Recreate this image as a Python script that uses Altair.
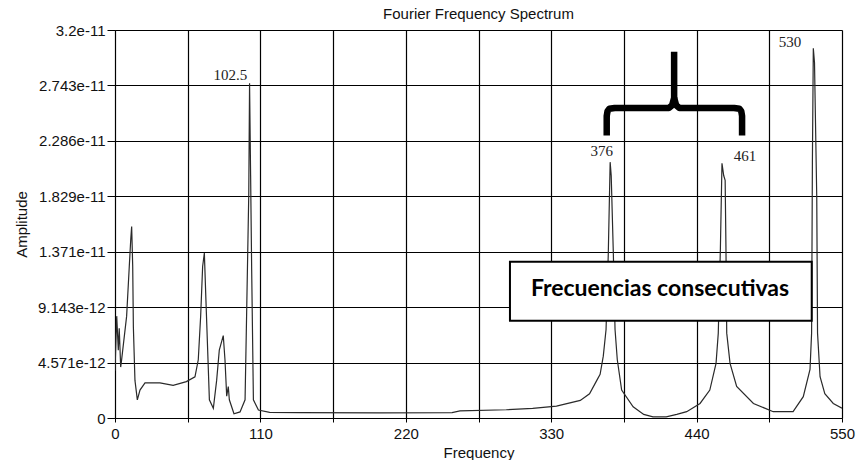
import altair as alt
import pandas as pd

# Spectrum samples (frequency, amplitude in units of 1e-12)
freq = [0, 1.3, 2.5, 3.2, 4.3, 5.0, 8.8, 10.8, 11.9, 12.6, 13.4, 13.9, 15.1, 16.9, 18.9, 22.7,
        34, 44, 54, 60.5, 63, 64.8, 66.3, 67.6, 68.8, 70.1, 71.4, 74.4, 76.9, 78.9, 81.9, 83.2,
        84.5, 85.7, 86.5, 90, 94.6, 98.4, 99.6, 101.2, 101.8, 102.6, 103.4, 104.7, 108.5, 117,
        140, 200, 255, 261, 296, 316, 334, 352, 359, 364.5, 367, 369.4, 371.5, 373.2, 374.6,
        375.4, 377, 378.3, 380, 383.3, 392, 400, 407, 417, 425, 432.5, 442.6, 450, 454.7, 456.4,
        458, 459.2, 460.5, 461.6, 462.2, 462.8, 465.3, 470.3, 483, 498, 513, 520.7, 525.8, 527,
        527.6, 528.3, 529.2, 530.9, 531.5, 533.4, 537, 543.4, 550]
amp_e12 = [3.9, 8.4, 5.6, 7.4, 4.2, 4.8, 8.4, 12.5, 14.7, 15.8, 12.5, 7.5, 3.1, 1.5, 2.3, 2.9,
           2.9, 2.7, 3.0, 3.4, 4.8, 8.4, 12.5, 13.6, 9.7, 5.6, 1.5, 0.8, 3.1, 5.6, 6.8, 4.8,
           1.8, 2.6, 1.5, 0.35, 0.5, 1.5, 8.7, 18.5, 27.6, 20.0, 12.2, 1.5, 0.66, 0.47,
           0.44, 0.42, 0.45, 0.58, 0.68, 0.8, 0.98, 1.45, 2.0, 3.1, 3.6, 5.1, 7.3, 13.6, 21.1,
           20.0, 13.6, 7.3, 4.8, 2.3, 0.93, 0.3, 0.1, 0.1, 0.3, 0.52, 1.2, 2.3, 4.5, 7.0,
           14.0, 21.0, 20.0, 19.6, 14.1, 7.0, 4.5, 2.6, 1.2, 0.52, 0.52, 1.76, 4.0, 7.0,
           21.0, 30.5, 29.3, 18.2, 7.0, 3.4, 2.0, 1.2, 0.8]

# Axis ticks
x_ticks = [0, 55, 110, 165, 220, 275, 330, 385, 440, 495, 550]
y_ticks = [i * 32 / 7 for i in range(8)]
y_tick_labels = ["0", "4.571e-12", "9.143e-12", "1.371e-11", "1.829e-11",
                 "2.286e-11", "2.743e-11", "3.2e-11"]

# Peak labels
peak_text = ["102.5", "376", "461", "530"]
peak_x = [87.2, 368.2, 476.7, 510.7]
peak_y = [28.3, 22.0, 21.6, 31.0]

# Bracket (two halves meeting at the centre stem)
br_x = [372, 372, 372.6, 374, 378, 419, 421.5, 423, 423,
        474.4, 474.4, 473.8, 472.4, 468.4, 427, 424.5, 423]
br_y = [23.3, 24.9, 25.3, 25.5, 25.57, 25.57, 25.8, 26.4, 30.2,
        23.3, 24.9, 25.3, 25.5, 25.57, 25.57, 25.8, 26.4]
br_part = ["a"] * 9 + ["b"] * 8

# Annotation box
box_text = ["Frecuencias consecutivas"]
box_x1, box_x2 = [298.8], [527.1]
box_y1, box_y2 = [8.02], [12.89]
box_tx, box_ty = [412.3], [10.6]

spec = pd.DataFrame({"f": freq, "a": amp_e12})
peaks = pd.DataFrame({"t": peak_text, "x": peak_x, "y": peak_y})
bracket = pd.DataFrame({"x": br_x, "y": br_y, "part": br_part,
                        "o": list(range(len(br_x)))})
box = pd.DataFrame({"x1": box_x1, "x2": box_x2, "y1": box_y1, "y2": box_y2,
                    "tx": box_tx, "ty": box_ty, "t": box_text})

label_arr = "[" + ",".join("'%s'" % s for s in y_tick_labels) + "]"

xscale = alt.Scale(domain=[0, 550], nice=False, zero=False)
yscale = alt.Scale(domain=[0, 32], nice=False)

xaxis = alt.Axis(values=x_ticks, labelExpr="datum.value % 110 == 0 ? datum.label : ''",
                 title="Frequency", grid=True, gridColor="#000", gridWidth=1.2,
                 domainColor="#000", tickColor="#000", tickSize=4, labelPadding=4,
                 labelFont="Liberation Sans", labelFontSize=15, labelColor="#111",
                 labelFlush=False, labelOverlap=False,
                 titleFont="Liberation Sans", titleFontSize=15, titleFontWeight="normal",
                 titleColor="#111", titleY=34, titleBaseline="middle")
yaxis = alt.Axis(values=y_ticks, labelExpr=label_arr + "[round(datum.value*7/32)]",
                 title="Amplitude", grid=True, gridColor="#000", gridWidth=1.2,
                 domainColor="#000", tickColor="#000", tickSize=8, labelPadding=2,
                 labelFont="Liberation Sans", labelFontSize=15, labelColor="#111",
                 labelFlush=False, labelOverlap=False,
                 titleFont="Liberation Sans", titleFontSize=15, titleFontWeight="normal",
                 titleColor="#111", titleX=-94, titleY=194, titleAngle=-90,
                 titleAlign="center", titleBaseline="middle")

line = alt.Chart(spec).mark_line(color="#2a2a2a", strokeWidth=1.2, clip=True).encode(
    x=alt.X("f:Q", scale=xscale, axis=xaxis),
    y=alt.Y("a:Q", scale=yscale, axis=yaxis),
)

peak_labels = alt.Chart(peaks).mark_text(font="Liberation Serif", fontSize=15,
                                         color="#222", baseline="middle").encode(
    x=alt.X("x:Q", scale=xscale), y=alt.Y("y:Q", scale=yscale), text="t:N")

brace = alt.Chart(bracket).mark_line(color="#000", strokeWidth=6.5, strokeCap="butt",
                                     strokeJoin="round").encode(
    x=alt.X("x:Q", scale=xscale), y=alt.Y("y:Q", scale=yscale),
    detail="part:N", order="o:Q")

rect = alt.Chart(box).mark_rect(fill="white", stroke="#000", strokeWidth=2).encode(
    x=alt.X("x1:Q", scale=xscale), x2="x2:Q",
    y=alt.Y("y1:Q", scale=yscale), y2="y2:Q")

rect_text = alt.Chart(box).mark_text(font="Lato", fontWeight="bold", fontSize=23,
                                     color="#000", baseline="middle").encode(
    x=alt.X("tx:Q", scale=xscale), y=alt.Y("ty:Q", scale=yscale), text="t:N")

chart = alt.layer(line, peak_labels, brace, rect, rect_text).properties(
    width=727, height=388,
    title=alt.TitleParams("Fourier Frequency Spectrum", font="Liberation Sans",
                          fontSize=15, fontWeight="normal", color="#111",
                          anchor="middle", offset=1),
    autosize=alt.AutoSizeParams(type="none"),
    padding={"left": 115, "top": 30, "right": 14, "bottom": 42},
).configure_view(stroke="#000", strokeWidth=1.2).configure(background="white")

chart.save("out.html", embed_options={"renderer": "svg", "actions": False})
